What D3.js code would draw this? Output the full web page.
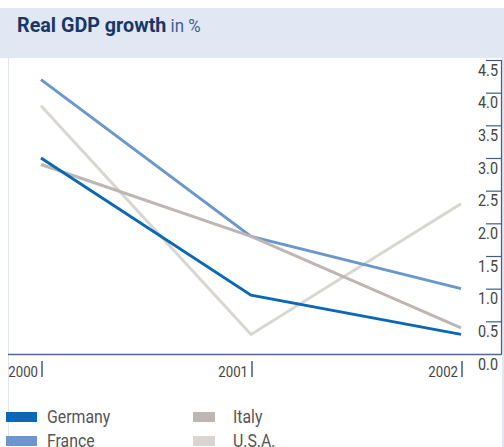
<!DOCTYPE html>
<html>
<head>
<meta charset="utf-8">
<script src="https://cdn.jsdelivr.net/npm/d3@7"></script>
<style>
  body { margin: 0; background: #fff; }
  svg text { font-family: "Roboto", "Liberation Sans", sans-serif; }
</style>
</head>
<body>
<svg id="chart" width="504" height="447"></svg>
<script>
// chart data
var years = ["2000", "2001", "2002"];
var germany = [3.0, 0.9, 0.3];
var france = [4.2, 1.8, 1.0];
var italy = [2.9, 1.8, 0.4];
var usa = [3.8, 0.3, 2.3];
var yTicks = [0, 0.5, 1, 1.5, 2, 2.5, 3, 3.5, 4, 4.5];

var seriesNames = ["Germany", "France", "Italy", "U.S.A."];
var seriesColors = ["#0a68b4", "#6b97cd", "#bdb6b2", "#d9d5d1"];
var seriesValues = [germany, france, italy, usa];

var svg = d3.select("svg#chart");

// squeezes text a little to mimic the condensed face of the original
function squeeze(px, py, k) {
  return "translate(" + px + "," + py + ") scale(" + k + ",1)";
}

// title band
svg.append("rect")
  .attr("x", 0).attr("y", 8)
  .attr("width", 504).attr("height", 50)
  .attr("fill", "#e1e7f3");

var title = svg.append("text")
  .attr("transform", squeeze(17, 32, 0.94))
  .style("font-size", "21px");
title.append("tspan")
  .attr("font-weight", "bold")
  .attr("fill", "#183768")
  .text("Real GDP growth");
title.append("tspan")
  .attr("fill", "#3b5f96")
  .style("font-size", "18px")
  .text(" in %");

// left frame line
svg.append("line")
  .attr("x1", 8.5).attr("x2", 8.5)
  .attr("y1", 58).attr("y2", 447)
  .attr("stroke", "#dfe5f1")
  .attr("stroke-width", 1);

svg.append("rect")
  .attr("x", 502).attr("y", 58)
  .attr("width", 2).attr("height", 389)
  .attr("fill", "#e1e7f3");

var x = d3.scalePoint()
  .domain(years)
  .range([41, 461]);

var y = d3.scaleLinear()
  .domain([0, 4.5])
  .range([354, 60]);

var axisColor = "#3d5c8f";

// y axis on the right: vertical line, short ticks, labels hanging below ticks
svg.append("line")
  .attr("x1", 501.5).attr("x2", 501.5)
  .attr("y1", y(4.5)).attr("y2", y(0))
  .attr("stroke", axisColor).attr("stroke-width", 1.2);

var yAxis = svg.append("g");
yAxis.selectAll("line.tick")
  .data(yTicks.filter(function(d) { return d > 0; }))
  .enter().append("line")
  .attr("class", "tick")
  .attr("x1", 486).attr("x2", 502)
  .attr("y1", function(d) { return y(d) + 0.5; })
  .attr("y2", function(d) { return y(d) + 0.5; })
  .attr("stroke", axisColor).attr("stroke-width", 1.2);

yAxis.selectAll("text")
  .data(yTicks)
  .enter().append("text")
  .attr("transform", function(d) { return squeeze(498, y(d) + 15.5, 0.9); })
  .attr("text-anchor", "end")
  .attr("fill", "#444")
  .style("font-size", "16px")
  .text(function(d) { return d3.format(".1f")(d); });

// x axis
svg.append("line")
  .attr("x1", 8).attr("x2", 502)
  .attr("y1", y(0) + 0.5).attr("y2", y(0) + 0.5)
  .attr("stroke", "#4d6a98").attr("stroke-width", 1.5);

var xAxis = svg.append("g");
xAxis.selectAll("line")
  .data(years)
  .enter().append("line")
  .attr("x1", function(d) { return x(d) + 1; })
  .attr("x2", function(d) { return x(d) + 1; })
  .attr("y1", 361).attr("y2", 377)
  .attr("stroke", axisColor).attr("stroke-width", 1.5);

xAxis.selectAll("text")
  .data(years)
  .enter().append("text")
  .attr("transform", function(d) { return squeeze(x(d) - 3, 377, 0.88); })
  .attr("text-anchor", "end")
  .attr("fill", "#444")
  .style("font-size", "15px")
  .text(function(d) { return d; });

// lines, drawn USA first so Germany sits on top
var line = d3.line()
  .x(function(d, i) { return x(years[i]); })
  .y(function(d) { return y(d); });

var drawOrder = [3, 1, 2, 0];
svg.append("g").selectAll("path")
  .data(drawOrder)
  .enter().append("path")
  .attr("d", function(k) { return line(seriesValues[k]); })
  .attr("fill", "none")
  .attr("stroke", function(k) { return seriesColors[k]; })
  .attr("stroke-width", 3);

// legend
var legend = svg.append("g");
var items = legend.selectAll("g")
  .data(seriesNames)
  .enter().append("g")
  .attr("transform", function(d, i) {
    return "translate(" + (i < 2 ? 6 : 193) + "," + (i % 2 === 0 ? 412 : 436) + ")";
  });

items.append("rect")
  .attr("width", function(d, i) { return i < 2 ? 31 : 22; })
  .attr("height", 10)
  .attr("fill", function(d, i) { return seriesColors[i]; });

items.append("text")
  .attr("transform", function(d, i) { return squeeze(i < 2 ? 41 : 40, 11, 0.88); })
  .attr("fill", "#555")
  .style("font-size", "18px")
  .text(function(d) { return d; });
</script>
</body>
</html>
